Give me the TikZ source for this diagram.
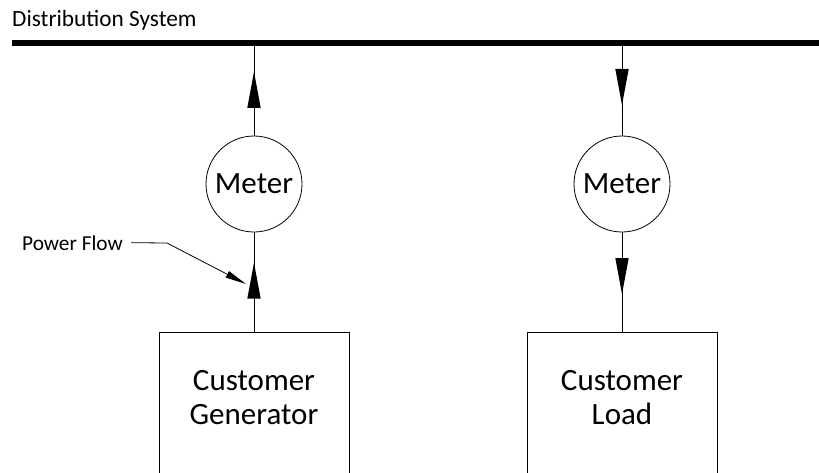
\documentclass[tikz,border=0pt]{standalone}
\usepackage{fontspec}
\setmainfont{Carlito}
\usetikzlibrary{arrows.meta,decorations.markings,calc}
\tikzset{
  wire/.style={line width=0.8pt, draw=black},
  bus/.style={line width=6pt, draw=black},
  meter/.style={circle, draw=black, line width=0.8pt, minimum size=96pt, inner sep=0pt,
    font=\fontsize{31}{34}\selectfont},
  unitbox/.style={rectangle, draw=black, line width=0.8pt, minimum width=190pt,
    minimum height=150pt, anchor=north, inner sep=0pt},
  boxtext/.style={align=center, inner sep=0pt, font=\fontsize{31}{34}\selectfont},
  smalltext/.style={font=\fontsize{23.3}{26}\selectfont, inner sep=0pt},
  midarrow/.style={postaction={decorate, decoration={markings,
    mark=at position #1 with {\fill[black] (18pt,0pt) -- (-18pt,6.7pt) -- (-18pt,-6.7pt) -- cycle;}}}}
}
\begin{document}
\begin{tikzpicture}[x=1pt, y=-1pt]
\useasboundingbox (0,0) rectangle (819,472);

% labels
\node[smalltext, anchor=base west] (dist) at (12,26) {Distribution System};
\node[font=\fontsize{21.3}{25}\selectfont, inner xsep=8pt, inner ysep=0pt, anchor=base west] (pf) at (14,250) {Power Flow};

% bus coordinates
\coordinate (busL) at (12,43);
\coordinate (busR) at (819,43);
\coordinate (tapL) at (254,43);
\coordinate (tapR) at (622,43);

% meters
\node[meter] (genmeter) at (254,184) {Meter};
\node[meter] (loadmeter) at (622,184) {Meter};

% boxes
\node[unitbox] (genbox) at (254,332) {};
\node[unitbox] (loadbox) at (622,332) {};
\node[boxtext] (gentext) at (254,398) {Customer\\Generator};
\node[boxtext] (loadtext) at (622,398) {Customer\\Load};

% connectors
\draw[wire, midarrow=0.495] (genmeter.north) -- (tapL);
\draw[wire, midarrow=0.515] (genbox.north) -- (genmeter.south);
\draw[wire, midarrow=0.475] (tapR) -- (loadmeter.north);
\draw[wire, midarrow=0.438] (loadmeter.south) -- (loadbox.north);

% bus on top
\draw[bus] (busL) -- (busR);

% power flow leader
\coordinate (pfbend) at (167,243);
\coordinate (pftip) at (246,284);
\draw[line width=0.8pt, -{Triangle[length=21pt, width=7pt]}] (pf.east) -- (pfbend) -- (pftip);
\end{tikzpicture}
\end{document}
